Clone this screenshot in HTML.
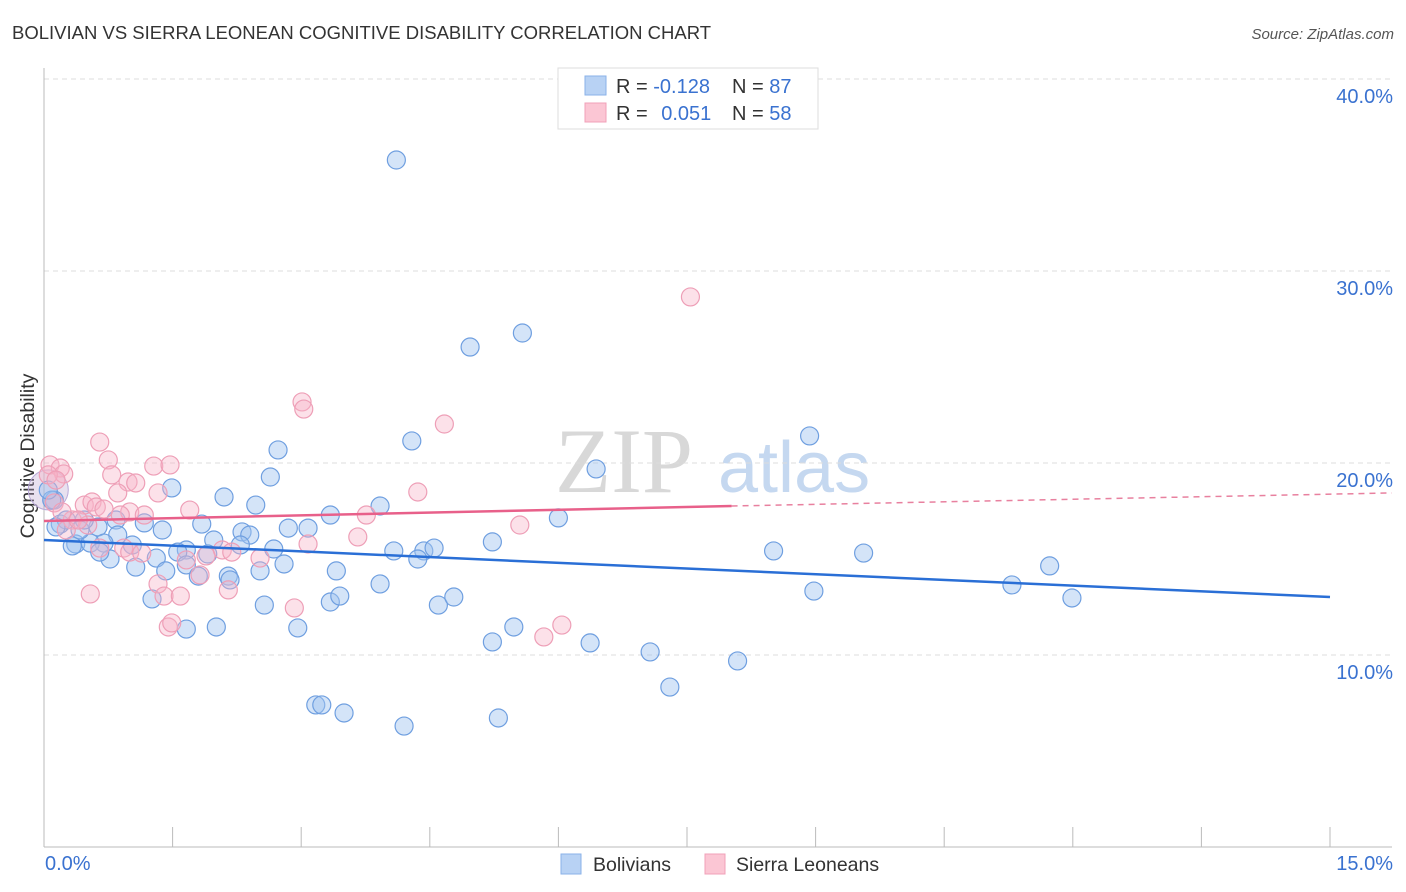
<!DOCTYPE html>
<html><head><meta charset="utf-8">
<style>
body{margin:0;background:#fff;font-family:"Liberation Sans",sans-serif;}
svg{display:block}
</style></head>
<body>
<svg id="chart" width="1406" height="892">
<text x="12" y="39" font-size="18.5" fill="#333">BOLIVIAN VS SIERRA LEONEAN COGNITIVE DISABILITY CORRELATION CHART</text>
<text x="1394" y="39" font-size="15" font-style="italic" fill="#555" text-anchor="end">Source: ZipAtlas.com</text>
<text x="34" y="456" font-size="19.5" fill="#333" text-anchor="middle" transform="rotate(-90 34 456)">Cognitive Disability</text>
<g>
<text x="555" y="492" font-size="92" font-family="Liberation Serif,serif" fill="#d8d8d8">ZIP</text>
<text x="718" y="492" font-size="72" fill="#c5d8f0">atlas</text>
</g>
<g id="grid"></g>
<g id="axes"></g>
<g id="pts"></g>
<g id="lines"></g>
<g>
<rect x="558" y="68" width="260" height="61" fill="#fff" stroke="#ddd"/>
<rect x="585" y="76" width="21" height="19" fill="#b8d2f4" stroke="#8ab2e8"/>
<rect x="585" y="103" width="21" height="19" fill="#fbc6d4" stroke="#f0a0b8"/>
<text x="616" y="93" font-size="20" fill="#333">R = <tspan fill="#3a72d0">-0.128</tspan></text>
<text x="732" y="93" font-size="20" fill="#333">N = <tspan fill="#3a72d0">87</tspan></text>
<text x="616" y="120" font-size="20" fill="#333">R = <tspan fill="#3a72d0" dx="8">0.051</tspan></text>
<text x="732" y="120" font-size="20" fill="#333">N = <tspan fill="#3a72d0">58</tspan></text>
</g>
<g>
<rect x="561" y="854" width="20" height="20" fill="#b8d2f4" stroke="#8ab2e8"/>
<text x="593" y="871" font-size="19.5" fill="#333">Bolivians</text>
<rect x="705" y="854" width="20" height="20" fill="#fbc6d4" stroke="#f0a0b8"/>
<text x="736" y="871" font-size="19.5" fill="#333">Sierra Leoneans</text>
</g>
</svg>
<script>
const yTicks=[10,20,30,40];
const yTickLabels=["10.0%","20.0%","30.0%","40.0%"];
const xTicks=[0,1.5,3,4.5,6,7.5,9,10.5,12,13.5,15];
const xEndLabels=["0.0%","15.0%"];
const bolX=[4.11,5.58,4.97,8.93,4.29,2.73,6.44,2.64,1.49,2.10,2.47,3.92,3.34,6.00,2.85,3.08,1.84,1.17,1.38,0.19,0.63,0.84,0.86,0.12,5.23,2.31,2.40,1.98,2.68,2.29,0.70,1.03,1.66,1.56,1.91,4.08,4.43,4.55,4.36,8.51,9.56,0.37,0.54,0.77,1.31,1.66,1.07,1.42,1.80,2.15,2.52,2.80,3.41,3.92,2.17,11.73,11.29,11.99,8.98,2.57,1.26,3.34,3.45,4.60,4.78,1.66,2.01,2.96,5.23,5.48,6.37,7.07,8.09,7.30,3.17,3.24,3.50,4.20,5.30,0.33,0.09,0.05,0.26,0.14,0.42,0.47,0.65];
const bolY=[35.78,26.77,26.04,21.41,21.15,20.68,19.69,19.27,18.70,18.23,17.81,17.76,17.29,17.14,16.61,16.61,16.82,16.88,16.51,16.82,16.67,17.03,16.25,18.07,15.89,16.41,16.25,15.99,15.52,15.73,15.83,15.73,15.47,15.36,15.26,15.42,15.42,15.57,15.00,15.42,15.31,15.78,15.83,15.00,15.05,14.69,14.58,14.38,14.11,14.11,14.38,14.74,14.38,13.70,13.91,14.64,13.65,12.97,13.33,12.60,12.92,12.76,13.07,12.60,13.02,11.35,11.46,11.41,10.68,11.46,10.63,10.16,9.69,8.33,7.40,7.40,6.98,6.30,6.72,15.68,18.07,18.59,17.03,16.67,16.51,17.03,15.36];
const sieX=[7.54,3.01,3.03,4.67,0.65,0.75,0.07,0.19,0.23,1.28,1.47,0.79,0.98,1.07,4.36,0.86,1.33,0.12,0.47,0.56,0.61,0.70,1.70,1.00,1.17,3.76,5.55,0.33,0.51,0.26,0.40,3.66,3.08,0.65,0.93,1.00,1.14,2.08,1.89,1.66,2.52,1.82,1.33,1.40,1.59,2.15,0.54,2.92,1.45,1.49,5.83,6.04,0.05,0.14,0.21,0.89,2.19];
const sieY=[28.65,23.18,22.81,22.03,21.09,20.16,19.90,19.74,19.43,19.84,19.90,19.38,19.01,18.96,18.49,18.44,18.44,17.92,17.81,17.97,17.71,17.60,17.55,17.45,17.29,17.29,16.77,17.03,16.77,16.51,17.03,16.15,15.78,15.57,15.57,15.36,15.31,15.47,15.16,14.95,15.05,14.17,13.70,13.07,13.07,13.39,13.18,12.45,11.46,11.67,10.94,11.56,19.38,19.11,17.45,17.29,15.36];
const bolLine=[[0,15.99],[15,13.02]];
const sieSolid=[[0,16.98],[8.02,17.76]];
const sieDash=[[8.02,17.76],[15.72,18.44]];
const NS="http://www.w3.org/2000/svg";
const sx=v=>44+v*1286/15, sy=v=>847-v*19.2;
function mk(tag,attrs,parent){const e=document.createElementNS(NS,tag);for(const k in attrs)e.setAttribute(k,attrs[k]);parent.appendChild(e);return e;}
const grid=document.getElementById('grid'),axes=document.getElementById('axes'),pts=document.getElementById('pts'),lines=document.getElementById('lines');
yTicks.forEach((t,i)=>{
 const l=mk('line',{x1:44,x2:1392,y1:sy(t),y2:sy(t),stroke:'#ddd','stroke-dasharray':'5,4'},grid);
 
 
 const tx=mk('text',{x:1393,y:sy(t)+24,'font-size':20,fill:'#3a72d0','text-anchor':'end'},axes);
 tx.textContent=yTickLabels[i];
 
 
});
const ax=mk('line',{x1:44,x2:44,y1:68,y2:847,stroke:'#bbb'},axes);


const bx=mk('line',{x1:44,x2:1392,y1:847,y2:847,stroke:'#bbb'},axes);


xTicks.forEach(t=>{
 const l=mk('line',{x1:sx(t),x2:sx(t),y1:827,y2:847,stroke:'#bbb'},axes);
 
 
});
const xl0=mk('text',{x:45,y:870,'font-size':20,fill:'#3a72d0'},axes);xl0.textContent=xEndLabels[0];


const xl1=mk('text',{x:1393,y:870,'font-size':20,fill:'#3a72d0','text-anchor':'end'},axes);xl1.textContent=xEndLabels[1];


const big=mk('circle',{cx:sx(0.05),cy:sy(18.6),r:20,fill:'rgba(190,170,210,0.35)',stroke:'#b9a8d8'},pts);


bolX.forEach((x,i)=>{
 const c=mk('circle',{cx:sx(x),cy:sy(bolY[i]),r:9,fill:'rgba(160,196,240,0.45)',stroke:'#6f9fe0','stroke-width':1.2},pts);
 
 
});
sieX.forEach((x,i)=>{
 const c=mk('circle',{cx:sx(x),cy:sy(sieY[i]),r:9,fill:'rgba(248,180,200,0.4)',stroke:'#ee9fb7','stroke-width':1.2},pts);
 
 
});
const l1=mk('line',{x1:sx(bolLine[0][0]),y1:sy(bolLine[0][1]),x2:sx(bolLine[1][0]),y2:sy(bolLine[1][1]),stroke:'#2a6fd6','stroke-width':2.5},lines);


const l2=mk('line',{x1:sx(sieSolid[0][0]),y1:sy(sieSolid[0][1]),x2:sx(sieSolid[1][0]),y2:sy(sieSolid[1][1]),stroke:'#e8608a','stroke-width':2.5},lines);


const l3=mk('line',{x1:sx(sieDash[0][0]),y1:sy(sieDash[0][1]),x2:sx(sieDash[1][0]),y2:sy(sieDash[1][1]),stroke:'#e8809f','stroke-width':1.5,'stroke-dasharray':'6,5'},lines);


</script>
</body></html>
